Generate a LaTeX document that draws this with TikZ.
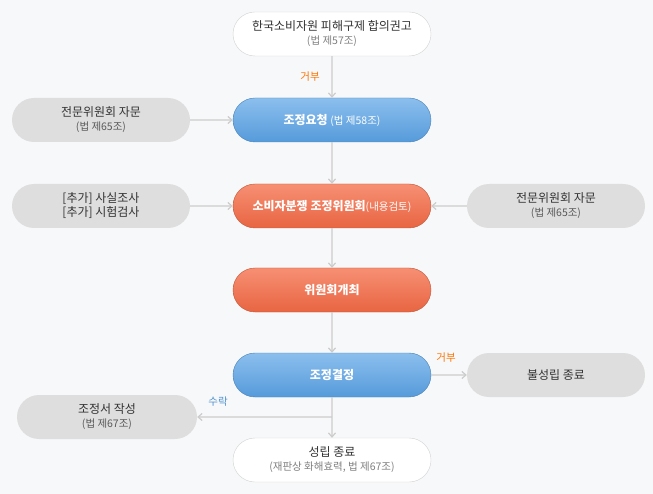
\documentclass[tikz,border=0pt]{standalone}
\usepackage{fontspec}
\setmainfont{Noto Sans CJK KR}
\usetikzlibrary{arrows.meta,shapes.misc}
\definecolor{bg}{HTML}{F7F8F9}
\definecolor{gbox}{HTML}{DEDEDE}
\definecolor{bluec}{HTML}{5AA3E6}
\definecolor{orc}{HTML}{F46A45}
\definecolor{lnc}{HTML}{CCCCCC}
\definecolor{txtg}{HTML}{333333}
\newcommand\smtxt{\fontsize{10.5}{12}\selectfont}
\begin{document}
\begin{tikzpicture}[x=1pt,y=-1pt,
  base/.style={rounded rectangle,minimum height=44pt,align=center,font=\fontsize{12}{14}\selectfont,inner sep=0pt},
  whitebox/.style={base,minimum width=198pt,draw=gray!35,fill=white,text=txtg},
  bluebox/.style={base,minimum width=198pt,draw=bluec!80!black,top color=bluec!70!white,bottom color=bluec!95!black,text=white},
  orbox/.style={base,minimum width=198pt,draw=orc!80!black,top color=orc!75!white,bottom color=orc!95!black,text=white},
  graybox/.style={base,minimum width=178pt,fill=gbox,text=txtg},
  conn/.style={draw=lnc,line width=1.2pt,-{Straight Barb[length=4pt,width=7pt]}},
  lbl/.style={font=\fontsize{10.5}{12}\selectfont}]
\fill[bg] (0,0) rectangle (653,494);
\useasboundingbox (0,0) rectangle (653,494);
\node[whitebox] (a) at (332,34) {한국소비자원 피해구제 합의권고\\{\smtxt\color{gray}(법 제57조)}};
\node[bluebox] (b) at (332,120) {\textbf{조정요청} {\smtxt(법 제58조)}};
\node[orbox] (c) at (332,206) {\textbf{소비자분쟁 조정위원회}{\smtxt(내용검토)}};
\node[orbox] (d) at (332,290) {\textbf{위원회개최}};
\node[bluebox] (e) at (332,375) {\textbf{조정결정}};
\node[whitebox] (f) at (332,460) {성립 종료\\{\smtxt\color{gray}(재판상 화해효력, 법 제67조)}};
\node[graybox] (l1) at (101,120) {전문위원회 자문\\{\smtxt\color{gray!70!black}(법 제65조)}};
\node[graybox] (l2) at (101,206) {[추가] 사실조사\\{}[추가] 시험검사};
\node[graybox] (r1) at (556,206) {전문위원회 자문\\{\smtxt\color{gray!70!black}(법 제65조)}};
\node[graybox] (r2) at (556,375) {불성립 종료};
\node[graybox,minimum width=180pt] (l3) at (107,417) {조정서 작성\\{\smtxt\color{gray!70!black}(법 제67조)}};
\coordinate (j) at (332,417);
\draw[conn] (a) -- (b);
\draw[conn] (b) -- (c);
\draw[conn] (c) -- (d);
\draw[conn] (d) -- (e);
\draw[conn] (e) -- (f);
\draw[conn] (l1) -- (b);
\draw[conn] (l2) -- (c);
\draw[conn] (r1) -- (c);
\draw[conn] (e) -- (r2);
\draw[conn] (j) -- (l3);
\node[lbl,text=orange!90!red] (t1) at (310,77) {거부};
\node[lbl,text=orange!90!red] (t2) at (446,358) {거부};
\node[lbl,text=bluec!90!black] (t3) at (218,402) {수락};
\end{tikzpicture}
\end{document}
